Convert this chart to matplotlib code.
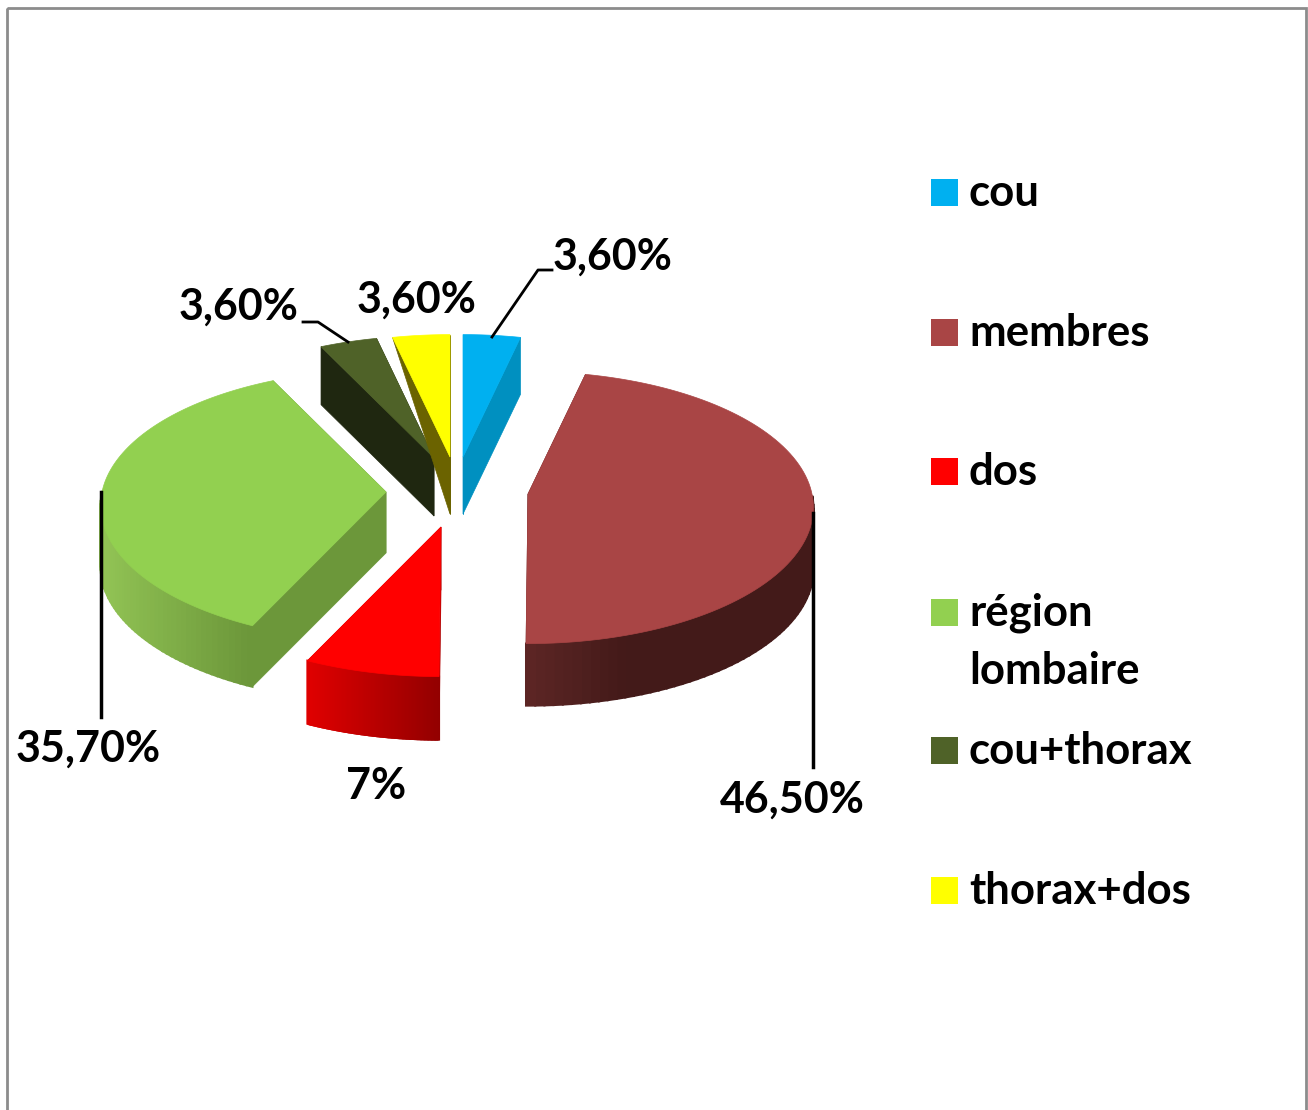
import numpy as np
import matplotlib
matplotlib.use("Agg")
import matplotlib.pyplot as plt
from matplotlib.patches import Polygon, Rectangle

plt.rcParams['font.family'] = ['Lato', 'DejaVu Sans']

# data
names = ["cou", "membres", "dos", "région\nlombaire", "cou+thorax", "thorax+dos"]
values = [3.6, 46.5, 7.0, 35.7, 3.6, 3.6]
value_labels = ["3,60%", "46,50%", "7%", "35,70%", "3,60%", "3,60%"]

# styles
top_colors = ['#00b0f0', '#a94545', '#ff0000', '#92d050', '#4f6228', '#ffff00']
cut_colors = ['#0090c0', '#5a2322', '#b00000', '#6c973a', '#1f2710', '#6b6300']
rim_left = ['#0090c0', '#5e2625', '#e00000', '#92c455', '#1f2710', '#6b6300']
rim_right = ['#0090c0', '#431a19', '#930000', '#6c973a', '#1f2710', '#6b6300']
shade_speed = [1, 2.8, 1, 1.15, 1, 1]
draw_order = [4, 5, 0, 3, 1, 2]

# pie geometry in pixels, each exploded slice has its own tip
tips = [(463, 457), (528, 494), (441, 527), (386, 492), (434, 458), (450, 457)]
depths = [57, 62, 63, 61, 58, 57]
A, B = 284, 136
PERSP = 0.1


def rim(tx, ty, t):
    t = np.radians(t)
    s = 1 - PERSP * np.cos(t)
    return tx + A * np.sin(t) * s, ty - B * np.cos(t) * s


def mix(c1, c2, f):
    c1 = np.array(matplotlib.colors.to_rgb(c1))
    c2 = np.array(matplotlib.colors.to_rgb(c2))
    return tuple(c1 + (c2 - c1) * f)


fig = plt.figure(figsize=(13.08, 11.10), dpi=100)
ax = fig.add_axes([0, 0, 1, 1])
ax.set_xlim(0, 1308)
ax.set_ylim(1110, 0)
ax.axis('off')

# chart frame
ax.add_patch(Rectangle((7, 8), 1299, 1200, fill=False, ec='#8c8c8c', lw=2))

ends = np.cumsum(values) / np.sum(values) * 360
starts = np.concatenate([[0], ends[:-1]])

z = 2
for i in draw_order:
    t0, t1 = starts[i], ends[i]
    cx, cy = tips[i]
    d = depths[i]
    ts = np.linspace(t0, t1, 100)
    xs, ys = rim(cx, cy, ts)

    # cut faces
    for t in (t0, t1):
        x, y = rim(cx, cy, t)
        # thorax+dos wall narrows to nothing at the rim in the original
        rim_d = 0 if (i == 5 and t == t0) else d
        ax.add_patch(Polygon([(cx, cy), (x, y), (x, y + rim_d), (cx, cy + d)],
                             fc=cut_colors[i], ec=cut_colors[i], lw=0.5, zorder=z))
    z += 1

    # outer wall, shaded from left to right
    for k in range(len(ts) - 1):
        if np.cos(np.radians((ts[k] + ts[k + 1]) / 2)) > 0:
            continue
        f = np.clip((xs[k] - min(xs)) / (max(xs) - min(xs)) * shade_speed[i], 0, 1)
        c = mix(rim_left[i], rim_right[i], f)
        ax.add_patch(Polygon([(xs[k], ys[k]), (xs[k + 1], ys[k + 1]),
                              (xs[k + 1], ys[k + 1] + d), (xs[k], ys[k] + d)],
                             fc=c, ec=c, lw=1.5, zorder=z))
    z += 1

    # top
    ax.add_patch(Polygon(np.column_stack([np.r_[cx, xs], np.r_[cy, ys]]),
                         fc=top_colors[i], ec=top_colors[i], lw=0.5, zorder=z))
    z += 1

# value labels
label_pos = [(613, 257), (792, 800), (376, 786), (88, 749), (239, 307), (417, 300)]
for s, (x, y) in zip(value_labels, label_pos):
    ax.text(x, y, s, fontsize=31, fontweight='bold', ha='center', va='center', color='black', zorder=50)

# leader lines
ax.plot([492, 538, 552], [337, 270, 270], color='black', lw=2, zorder=40)
ax.plot([303, 318, 348], [322, 322, 342], color='black', lw=2, zorder=40)
ax.plot([101, 101], [492, 717], color='black', lw=2.5, zorder=40)
ax.plot([813, 813], [513, 767], color='black', lw=2.5, zorder=40)

# legend
legend_y = [192, 332, 471, 612, 750, 890]
for name, c, y in zip(names, top_colors, legend_y):
    ax.add_patch(Rectangle((931, y - 13), 27, 27, fc=c, ec='none'))
    ax.text(969, y + 1, name.split("\n")[0], fontsize=31.5, fontweight='bold', va='center', color='black')
    if "\n" in name:
        ax.text(969, y + 59, name.split("\n")[1], fontsize=31.5, fontweight='bold', va='center', color='black')

plt.savefig('out.png', dpi=100)
